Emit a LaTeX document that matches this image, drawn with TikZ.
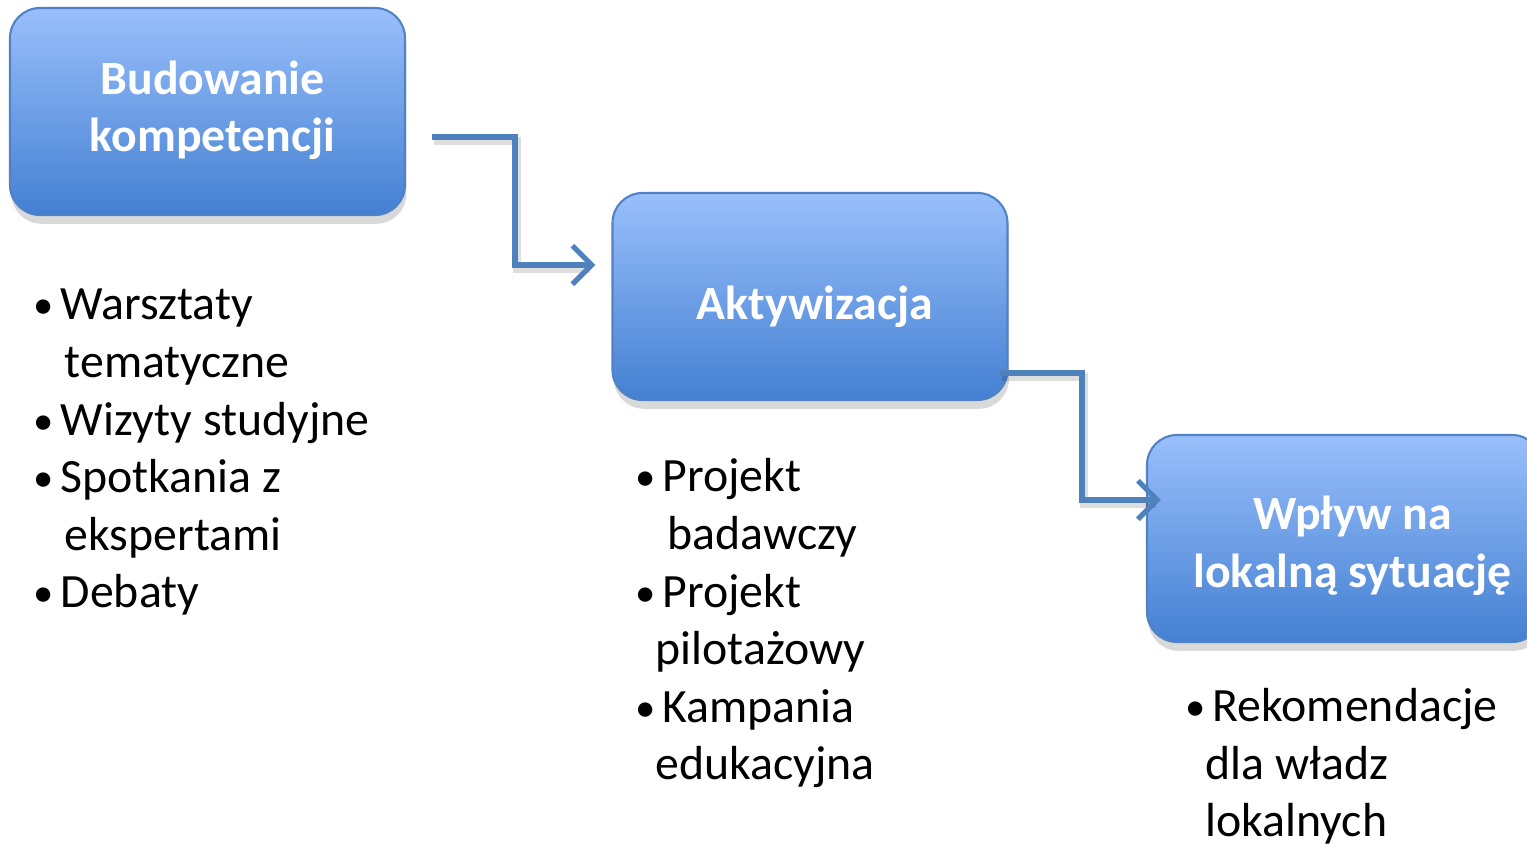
\documentclass[tikz,border=0pt]{standalone}
\usepackage{fontspec}
\setmainfont{Carlito}
\usetikzlibrary{arrows.meta,shadows}
\definecolor{boxtop}{RGB}{153,191,251}
\definecolor{boxbot}{RGB}{68,128,210}
\definecolor{boxline}{RGB}{82,130,198}
\definecolor{arrowblue}{RGB}{79,129,189}
\tikzset{
    stagebox/.style={rounded corners=0.3cm,draw=boxline,line width=0.6pt,
        top color=boxtop,bottom color=boxbot,minimum width=3.95cm,minimum height=2.07cm,
        text=white,font=\fontsize{13.6}{16.4}\selectfont\bfseries,align=center,
        drop shadow={opacity=0.3,shadow xshift=0.4pt,shadow yshift=-2.5pt}},
    flow/.style={draw=arrowblue,line width=1.7pt,-{Straight Barb[length=5.5pt,width=11pt,line width=1.5pt]}},
    flowshadow/.style={draw=black,opacity=0.13,line width=2.4pt},
    itemlist/.style={anchor=base west,inner sep=0pt,align=left,font=\fontsize{13.6}{16.4}\selectfont}
}
\newcommand{\itm}[1]{\makebox[0.27cm][l]{\raisebox{0.3pt}{\scalebox{0.85}{•}}}#1}
\newcommand{\cnt}[2]{\hspace*{#1}#2}
\newcommand{\lowered}[2]{\raisebox{#1}[\height][\depth]{#2}}
\begin{document}
\begin{tikzpicture}
    \useasboundingbox (0,0) rectangle (15.27,-8.44);
    % stages
    \node[stagebox] (build) at (2.075,-1.115)
        {\lowered{0pt}{\hspace*{0.1cm}\begin{tabular}{@{}c@{}}Budowanie\\kompetencji\end{tabular}}};
    \node[stagebox] (act) at (8.10,-2.965) {\lowered{-3pt}{\hspace*{0.1cm}Aktywizacja}};
    \node[stagebox] (impact) at (13.445,-5.385)
        {\lowered{-2.5pt}{\hspace*{0.16cm}\begin{tabular}{@{}c@{}}Wpływ na\\lokalną sytuację\end{tabular}}};
    % connectors
    \coordinate (s1) at (4.32,-1.37);
    \coordinate (s2) at (10.00,-3.73);
    \coordinate (e1) at ([xshift=-0.16cm,yshift=0.315cm]act.west);
    \coordinate (e2) at ([xshift=0.15cm,yshift=0.385cm]impact.west);
    \draw[flowshadow] ([shift={(0.02,-0.04)}]s1) -| ([shift={(0.02,-0.04)}]e1 -| 5.15,0) -- ([shift={(-0.05,-0.04)}]e1);
    \draw[flowshadow] ([shift={(0.02,-0.04)}]s2) -| ([shift={(0.02,-0.04)}]e2 -| 10.82,0) -- ([shift={(-0.05,-0.04)}]e2);
    \draw[flow] (s1) -| (5.15,-2.0) |- (e1);
    \draw[flow] (s2) -| (10.82,-4.4) |- (e2);
    % lists (anchored at the baseline of the last line)
    \node[itemlist] (buildlist) at (0.33,-6.08) {\itm{Warsztaty}\\\cnt{0.31cm}{tematyczne}\\\itm{Wizyty studyjne}\\\itm{Spotkania z}\\\cnt{0.31cm}{ekspertami}\\\itm{Debaty}};
    \node[itemlist] (actlist) at (6.35,-7.80) {\itm{Projekt}\\\cnt{0.32cm}{badawczy}\\\itm{Projekt}\\\cnt{0.20cm}{pilotażowy}\\\itm{Kampania}\\\cnt{0.20cm}{edukacyjna}};
    \node[itemlist] (impactlist) at (11.85,-8.37) {\itm{Rekomendacje}\\\cnt{0.20cm}{dla władz}\\\cnt{0.20cm}{lokalnych}};
\end{tikzpicture}
\end{document}
